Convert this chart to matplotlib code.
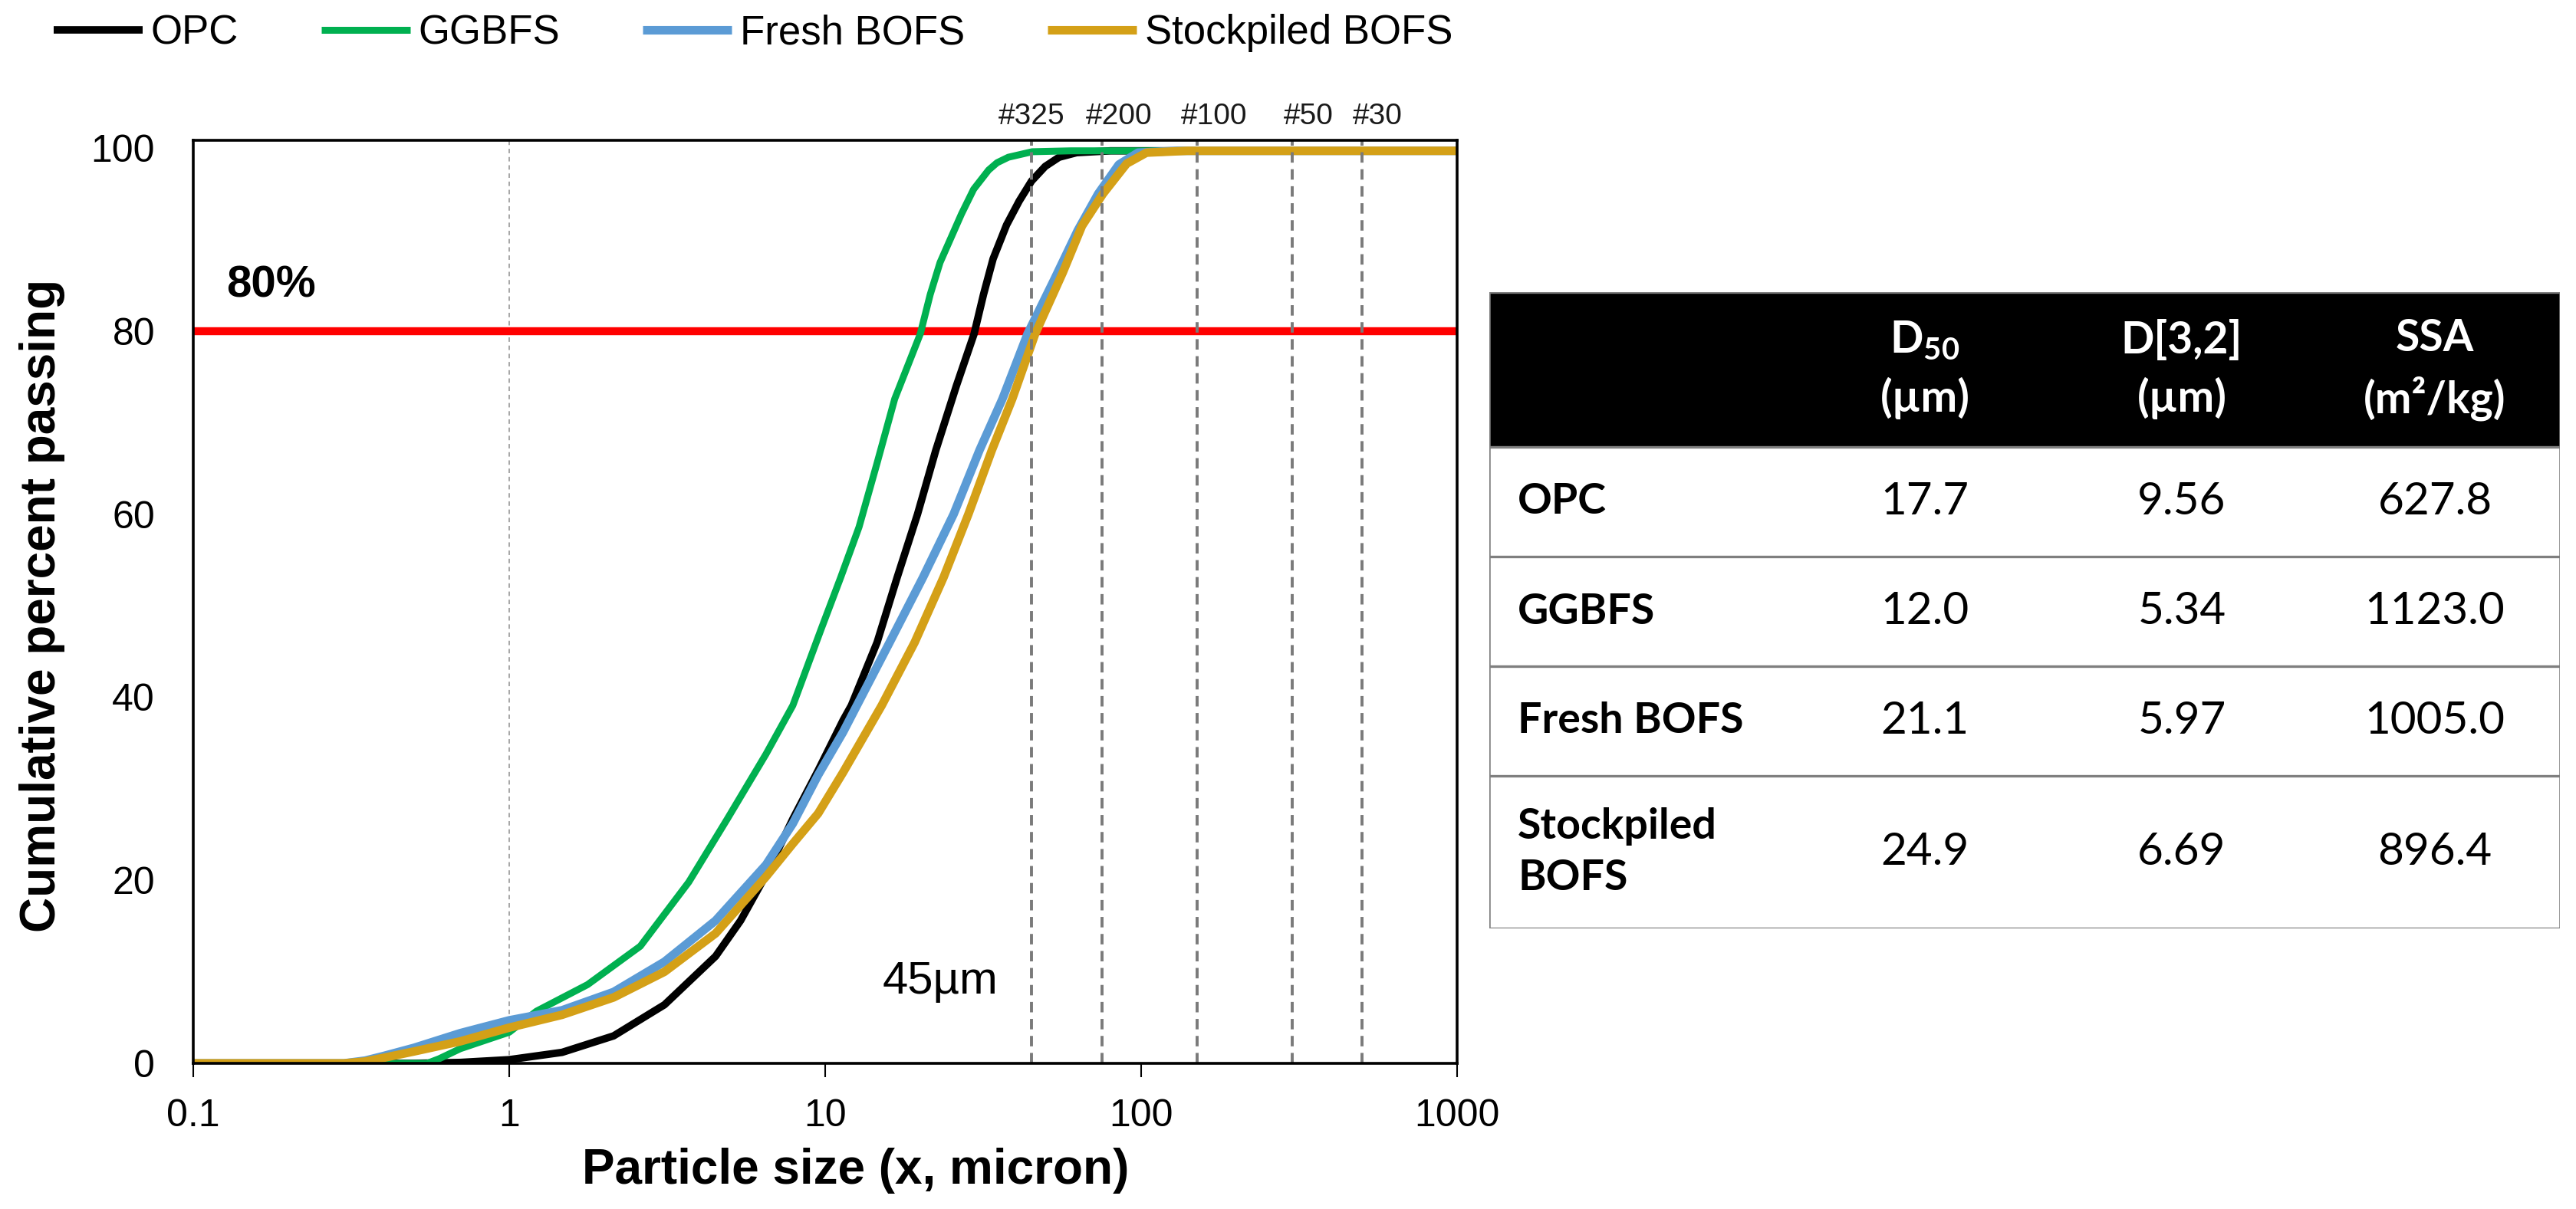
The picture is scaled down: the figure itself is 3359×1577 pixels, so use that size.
import matplotlib
matplotlib.use('Agg')
import matplotlib.pyplot as plt
import matplotlib.ticker as mticker
import matplotlib.transforms as mtrans
from matplotlib.patches import Rectangle

plt.rcParams['font.family'] = ['Liberation Sans', 'DejaVu Sans']
plt.rcParams['mathtext.fontset'] = 'custom'
plt.rcParams['mathtext.rm'] = 'Lato:bold'

# ---- curves (size in micron, cumulative % passing)
opc_size = [0.1, 0.5, 0.7, 1.0, 1.47, 2.14, 3.1, 4.5, 5.4, 6.5, 7.9, 9.5, 11.4, 12.1,
            14.6, 16.9, 19.6, 22.4, 26.0, 29.6, 31.7, 34.0, 37.5, 41.1, 45, 49.7,
            55, 62.5, 80, 1000]
opc_pct = [0, 0, 0.1, 0.4, 1.2, 3.0, 6.4, 11.7, 15.6, 20.6, 26.7, 32.0, 37.5, 39.1,
           46.0, 53.1, 60.0, 67.0, 74.0, 79.7, 84.0, 87.9, 91.6, 94.2, 96.4, 98.0,
           99.0, 99.5, 99.7, 99.7]

ggbfs_size = [0.1, 0.55, 0.6, 0.7, 1.0, 1.22, 1.77, 2.6, 3.7, 4.9, 6.5, 7.9, 9.7, 11.2, 12.8,
              14.6, 16.6, 20.0, 21.5, 23.1, 27.0, 29.5, 32.9, 35, 38, 45.2, 60, 1000]
ggbfs_pct = [0, 0, 0.5, 1.6, 3.4, 5.7, 8.6, 12.8, 19.8, 26.7, 33.8, 39.1, 47.4, 53.1, 58.6,
             65.6, 72.6, 79.7, 84.0, 87.5, 92.8, 95.5, 97.6, 98.4, 99.0, 99.6, 99.7, 99.7]

fresh_size = [0.1, 0.3, 0.35, 0.4, 0.5, 0.7, 1.0, 1.47, 2.14, 3.1, 4.5, 6.5, 7.9, 9.5, 11.4,
              12.6, 16.0, 20.4, 25.5, 30.8, 36.4, 43.7, 53.2, 63, 73.1, 85, 97.8, 130, 1000]
fresh_pct = [0, 0, 0.3, 0.8, 1.7, 3.3, 4.7, 5.8, 7.8, 11.1, 15.6, 21.7, 26.2, 31.5, 36.2,
             39.1, 46.0, 53.1, 60.0, 67.0, 72.6, 79.7, 85.7, 91.0, 95.0, 98.2, 99.5, 99.7, 99.7]

stock_size = [0.1, 0.3, 0.35, 0.4, 0.5, 0.7, 1.0, 1.47, 2.14, 3.1, 4.5, 6.5, 7.9, 9.5, 11.4,
              15.1, 19.2, 23.7, 28.4, 33.7, 39.1, 46.2, 56.5, 65, 75.7, 90, 104, 140, 1000]
stock_pct = [0, 0, 0.2, 0.6, 1.3, 2.4, 3.9, 5.3, 7.2, 10.0, 14.2, 20.4, 24.0, 27.3, 31.8,
             39.1, 46.0, 53.1, 60.0, 67.0, 72.6, 79.7, 86.4, 91.5, 95.0, 98.3, 99.5, 99.7, 99.7]

series_names = ['OPC', 'GGBFS', 'Fresh BOFS', 'Stockpiled BOFS']

sieve_sizes = [45, 75, 150, 300, 500]
sieve_labels = ['#325', '#200', '#100', '#50', '#30']

x_ticks = [0.1, 1, 10, 100, 1000]
x_tick_labels = ['0.1', '1', '10', '100', '1000']
y_ticks = [0, 20, 40, 60, 80, 100]

# ---- table values
table_rows = ['OPC', 'GGBFS', 'Fresh BOFS', 'Stockpiled\nBOFS']
table_cols = ['D$_{50}$\n(µm)', 'D[3,2]\n(µm)', 'SSA\n(m²/kg)']
d50 = ['17.7', '12.0', '21.1', '24.9']
d32 = ['9.56', '5.34', '5.97', '6.69']
ssa = ['627.8', '1123.0', '1005.0', '896.4']

W, H = 3359, 1577
fig = plt.figure(figsize=(W / 100, H / 100), dpi=100)

# ---------------- chart
ax = fig.add_axes([252 / W, 1 - 1387 / H, 1648 / W, 1204 / H])
ax.set_xscale('log')

ax.axvline(1, color='#a6a6a6', lw=1.4, ls=(0, (3, 2.5)), zorder=1)
ax.axhline(80, color='#ff0000', lw=7.5, zorder=2)

styles = [('#000000', 7.0), ('#00b050', 6.5), ('#5b9bd5', 8.0), ('#d4a017', 8.0)]
data = [(opc_size, opc_pct), (ggbfs_size, ggbfs_pct),
        (fresh_size, fresh_pct), (stock_size, stock_pct)]
for (xs, ys), (col, lw), name in zip(data, styles, series_names):
    ax.plot(xs, ys, color=col, lw=lw, label=name, zorder=3,
            solid_capstyle='butt', solid_joinstyle='round')

# sieve labels sit a little right of their lines, except the first
label_shift = [0, 16, 16, 16, 15]
for s, lab, dx in zip(sieve_sizes, sieve_labels, label_shift):
    ax.axvline(s, color='#7a7a7a', lw=2.8, ls=(0, (3.5, 2.2)), zorder=4)
    tr = mtrans.offset_copy(ax.get_xaxis_transform(), fig=fig, x=dx, y=0, units='points')
    ax.text(s, 1.0255, lab, transform=tr, ha='center', va='center',
            fontsize=28, color='#1a1a1a')

ax.set_xlim(0.1, 1000)
ax.set_ylim(0, 100.85)
ax.set_xticks(x_ticks)
ax.set_xticklabels(x_tick_labels)
ax.xaxis.set_minor_locator(mticker.NullLocator())
ax.set_yticks(y_ticks)
ax.tick_params(axis='x', direction='out', length=13, width=1.5, pad=20, labelsize=36)
ax.tick_params(axis='y', length=0, pad=36, labelsize=36)
for sp in ax.spines.values():
    sp.set_linewidth(2.6)
    sp.set_zorder(5)

ax.text(0.127, 85, '80%', fontsize=42, fontweight='bold', ha='left', va='center')
ax.text(35.2, 7.6, '45µm', fontsize=43, ha='right', va='baseline')

fig.text(55 / W, 1 - 790 / H, 'Cumulative percent passing', rotation=90,
         ha='center', va='center', fontsize=46, fontweight='bold')
fig.text(1116 / W, 1 - 1527 / H, 'Particle size (x, micron)',
         ha='center', va='center', fontsize=46, fontweight='bold')

fig.legend(loc='center', bbox_to_anchor=(982 / W, 1 - 43 / H), ncol=4, frameon=False,
           fontsize=38, handlelength=2.2, handletextpad=0.2, columnspacing=2.05,
           borderpad=0, borderaxespad=0)

# ---------------- table
tx0, ty0, tw, th = 1942, 381, 1396, 830
tab = fig.add_axes([tx0 / W, 1 - (ty0 + th) / H, tw / W, th / H])
tab.set_xlim(0, tw)
tab.set_ylim(th, 0)
tab.axis('off')

row_h = [202, 143, 143, 143, 199]
edges = [0]
for h in row_h:
    edges.append(edges[-1] + h)

col_x = [568, 903, 1233]
label_x = 37
grid_col = '#7f7f7f'

tab.add_patch(Rectangle((0, 0), tw, row_h[0], color='black', zorder=1))
for e in edges:
    tab.plot([0, tw], [e, e], color=grid_col, lw=2.4, zorder=2)
tab.plot([0, 0], [0, th], color=grid_col, lw=1.8, zorder=2)
tab.plot([tw, tw], [0, th], color=grid_col, lw=1.8, zorder=2)

for cx, head in zip(col_x, table_cols):
    tab.text(cx, edges[1] / 2, head, color='white', fontsize=41, fontweight='bold',
             family='Lato', ha='center', va='center', linespacing=1.45, zorder=3)

for i, lab in enumerate(table_rows):
    yc = (edges[i + 1] + edges[i + 2]) / 2
    tab.text(label_x, yc, lab, fontsize=40, fontweight='bold', family='Lato',
             ha='left', va='center', linespacing=1.4, zorder=3)
    for cx, vals in zip(col_x, [d50, d32, ssa]):
        tab.text(cx, yc, vals[i], fontsize=42, family='Lato', ha='center',
                 va='center', zorder=3)

fig.savefig('out.png', dpi=100, facecolor='white')
